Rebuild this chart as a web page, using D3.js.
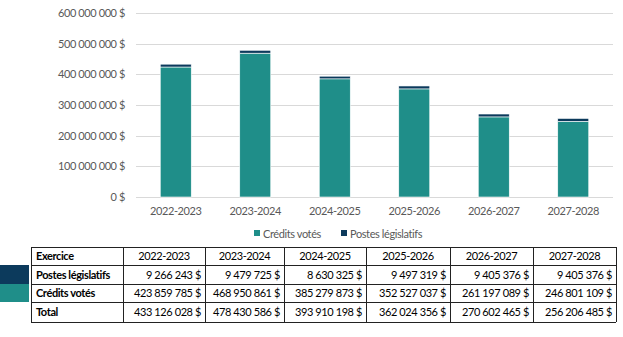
<!DOCTYPE html>
<html><head><meta charset="utf-8">
<script src="https://cdn.jsdelivr.net/npm/d3@7"></script>
<style>body{margin:0;background:#fff;}svg{display:block;font-family:Lato,"Open Sans",sans-serif;}text{letter-spacing:-0.4px;}</style>
</head><body>
<svg id="c" width="623" height="337"></svg>
<script>
const categories = ["2022-2023","2023-2024","2024-2025","2025-2026","2026-2027","2027-2028"];
const postesLegislatifs = [9266243, 9479725, 8630325, 9497319, 9405376, 9405376];
const creditsVotes = [423859785, 468950861, 385279873, 352527037, 261197089, 246801109];
const totals = [433126028, 478430586, 393910198, 362024356, 270602465, 256206485];
const yTicks = [0, 100000000, 200000000, 300000000, 400000000, 500000000, 600000000];
const seriesNames = ["Crédits votés", "Postes législatifs"];
const rowNames = ["Postes législatifs", "Crédits votés", "Total"];
const headerLabel = "Exercice";

const TEAL = "#1f8e89", NAVY = "#0c3a5c";
const svg = d3.select("#c");
const fmt = v => d3.format(",")(v).replace(/,/g, "\u00a0") + "\u00a0$";

const x = d3.scaleBand().domain(categories).range([136, 613]).paddingInner(0.61).paddingOuter(0.305);
const y = d3.scaleLinear().domain([0, 600000000]).range([197, 13]);

// grid
svg.append("g").selectAll("line").data(yTicks).join("line")
  .attr("x1", 136).attr("x2", 613)
  .attr("y1", d => Math.round(y(d)) + 0.5).attr("y2", d => Math.round(y(d)) + 0.5)
  .attr("stroke", "#d9d9d9").attr("stroke-width", 1);

// y axis labels
const yAxis = d3.axisLeft(y).tickValues(yTicks).tickSize(0).tickPadding(0).tickFormat(fmt);
const ya = svg.append("g").attr("transform", "translate(125,0)").call(yAxis);
ya.select(".domain").remove();
ya.selectAll("text").attr("fill", "#595959").style("font-size", "11px").style("font-family", "Lato");

// x axis labels
const xAxis = d3.axisBottom(x).tickSize(0).tickPadding(0);
const xa = svg.append("g").attr("transform", "translate(0,207)").call(xAxis);
xa.select(".domain").remove();
xa.selectAll("text").attr("fill", "#595959").style("font-size", "11px").style("font-family", "Lato");

// stacked bars
const rows = categories.map((c, i) => ({cat: c, cv: creditsVotes[i], pl: postesLegislatifs[i]}));
const stack = d3.stack().keys(["cv", "pl"])(rows);
const colors = [TEAL, NAVY];
stack.forEach((layer, li) => {
  svg.append("g").selectAll("rect").data(layer).join("rect")
    .attr("x", d => x(d.data.cat))
    .attr("width", x.bandwidth())
    .attr("y", d => y(d[1]))
    .attr("height", d => y(d[0]) - y(d[1]))
    .attr("fill", colors[li])
    .attr("stroke", "#ffffff").attr("stroke-width", 0.6);
});

// legend
const leg = svg.append("g").style("font-size", "11px").attr("fill", "#595959");
const legItems = [{name: seriesNames[0], c: TEAL, x: 254}, {name: seriesNames[1], c: NAVY, x: 341}];
legItems.forEach(it => {
  leg.append("rect").attr("x", it.x).attr("y", 230).attr("width", 6).attr("height", 6).attr("fill", it.c);
  leg.append("text").attr("x", it.x + 9).attr("y", 237.5).text(it.name);
});

// table
const colX = [31, 123, 205, 284, 366, 450, 533, 616];
const rowY = [247, 265, 284, 302, 322];
const tbl = svg.append("g").style("font-size", "11px").attr("fill", "#000");
// left legend keys
tbl.append("rect").attr("x", 0).attr("y", rowY[1]).attr("width", 29).attr("height", rowY[2] - rowY[1]).attr("fill", NAVY);
tbl.append("rect").attr("x", 0).attr("y", rowY[2]).attr("width", 29).attr("height", rowY[3] - rowY[2]).attr("fill", TEAL);

const data = [categories.map(String), postesLegislatifs.map(fmt), creditsVotes.map(fmt), totals.map(fmt)];
const firstCol = [headerLabel, ...rowNames];
for (let r = 0; r < 4; r++) {
  const cy = (rowY[r] + rowY[r + 1]) / 2 + 4;
  tbl.append("text").attr("x", colX[0] + 5).attr("y", cy).style("font-weight", "bold").text(firstCol[r]);
  for (let c = 0; c < 6; c++) {
    const t = tbl.append("text").attr("y", cy).text(data[r][c]);
    if (r === 0) t.attr("x", (colX[c + 1] + colX[c + 2]) / 2).attr("text-anchor", "middle");
    else t.attr("x", colX[c + 2] - 4).attr("text-anchor", "end");
  }
}
// grid lines of table
const g = tbl.append("g").attr("stroke", "#222").attr("stroke-width", 1);
rowY.forEach(yy => g.append("line").attr("x1", colX[0]).attr("x2", colX[7]).attr("y1", yy + 0.5).attr("y2", yy + 0.5));
colX.forEach(xx => g.append("line").attr("x1", xx + 0.5).attr("x2", xx + 0.5).attr("y1", rowY[0]).attr("y2", rowY[4]));
</script>
</body></html>
